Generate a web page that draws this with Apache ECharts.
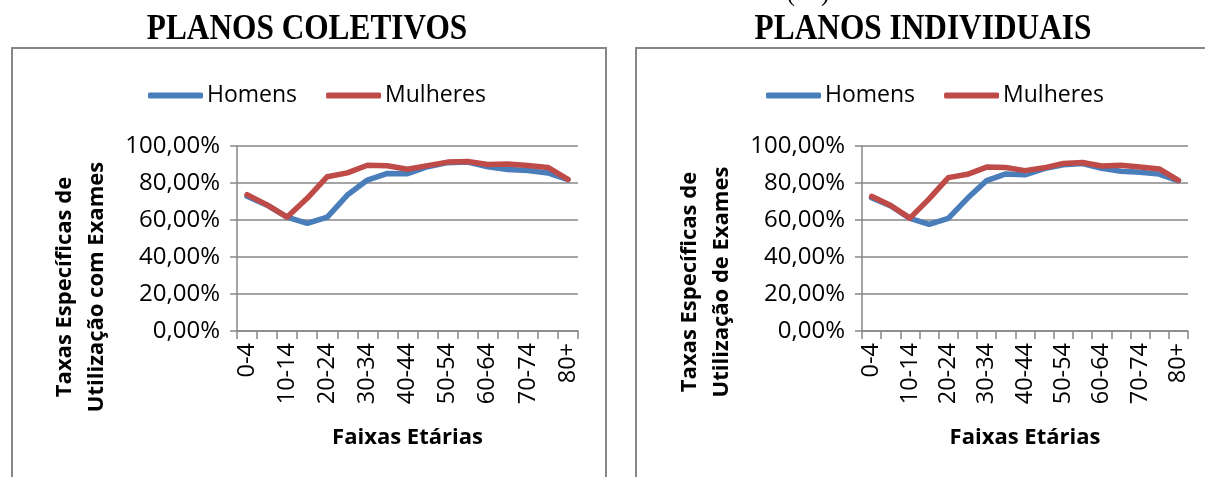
<!DOCTYPE html>
<html>
<head>
<meta charset="utf-8">
<script src="https://cdn.jsdelivr.net/npm/echarts@6/dist/echarts.min.js"></script>
<style>
  html, body { margin: 0; padding: 0; background: #fff; }
  #chart { width: 1205px; height: 477px; }
</style>
</head>
<body>
<div id="chart"></div>
<script>
  // faixas etárias (eixo x)
  var categorias = ['0-4', '5-9', '10-14', '15-19', '20-24', '25-29', '30-34', '35-39', '40-44',
    '45-49', '50-54', '55-59', '60-64', '65-69', '70-74', '75-79', '80+'];

  // planos coletivos, em %
  var coletivosHomens = [72.8, 68.0, 61.5, 58.2, 61.6, 73.5, 81.6, 85.2, 85.0, 88.8, 91.0, 91.3, 88.8, 87.3, 86.7, 85.4, 81.8];
  var coletivosMulheres = [73.7, 68.2, 61.6, 71.7, 83.4, 85.5, 89.6, 89.3, 87.4, 89.4, 91.3, 91.6, 90.0, 90.3, 89.5, 88.4, 82.0];

  // planos individuais, em %
  var individuaisHomens = [72.0, 67.6, 60.9, 57.7, 60.9, 71.7, 81.3, 84.9, 84.4, 87.8, 89.8, 90.5, 87.9, 86.4, 85.8, 84.8, 81.2];
  var individuaisMulheres = [72.8, 67.8, 61.0, 71.4, 82.9, 84.7, 88.6, 88.4, 86.7, 88.2, 90.6, 91.1, 89.2, 89.6, 88.7, 87.6, 81.4];

  // eixo y
  var yMin = 0;
  var yMax = 100;
  var yPasso = 20;

  var cinza = '#878787';
  var azul = '#4a7ebb';
  var vermelho = '#be4b48';
  var fonte = '"Open Sans", sans-serif';

  function pct(v) {
    return v.toFixed(2).replace('.', ',') + '%';
  }

  function eixoX(idx) {
    return {
      type: 'category',
      gridIndex: idx,
      data: categorias,
      boundaryGap: true,
      axisLine: { lineStyle: { color: cinza, width: 1.5 } },
      axisTick: { show: true, interval: 0, length: 8, lineStyle: { color: cinza, width: 1.5 } },
      axisLabel: { interval: 1, rotate: 90, margin: 12, color: '#000', fontSize: 23.5, fontFamily: fonte },
      name: 'Faixas Etárias',
      nameLocation: 'middle',
      nameGap: 96,
      nameTextStyle: { color: '#000', fontSize: 22, fontWeight: 'bold', fontFamily: fonte }
    };
  }

  function eixoY(idx) {
    return {
      type: 'value',
      gridIndex: idx,
      min: yMin,
      max: yMax,
      interval: yPasso,
      axisLine: { show: true, lineStyle: { color: cinza, width: 1.5 } },
      axisTick: { show: true, length: 7, lineStyle: { color: cinza, width: 1.5 } },
      axisLabel: { formatter: pct, margin: 17, color: '#000', fontSize: 24, fontFamily: fonte },
      splitLine: { show: true, lineStyle: { color: cinza, width: 1.5 } }
    };
  }

  function serie(nome, dados, cor, idx) {
    return {
      name: nome,
      type: 'line',
      xAxisIndex: idx,
      yAxisIndex: idx,
      data: dados,
      symbol: 'none',
      smooth: false,
      color: cor,
      lineStyle: { color: cor, width: 5.5, cap: 'round', join: 'round' },
      animation: false
    };
  }

  function legenda(left) {
    return {
      left: left,
      top: 79,
      icon: 'roundRect',
      itemWidth: 55,
      itemHeight: 6,
      itemGap: 29,
      data: ['Homens', 'Mulheres'],
      textStyle: { color: '#000', fontSize: 23, fontFamily: fonte, padding: [0, 0, 0, -1] }
    };
  }

  var chart = echarts.init(document.getElementById('chart'));
  chart.setOption({
    backgroundColor: '#fff',
    animation: false,
    legend: [legenda(143), legenda(761)],
    grid: [
      { left: 237, top: 146, width: 341, height: 185 },
      { left: 862, top: 146, width: 326, height: 185 }
    ],
    xAxis: [eixoX(0), eixoX(1)],
    yAxis: [eixoY(0), eixoY(1)],
    series: [
      serie('Homens', coletivosHomens, azul, 0),
      serie('Mulheres', coletivosMulheres, vermelho, 0),
      serie('Homens', individuaisHomens, azul, 1),
      serie('Mulheres', individuaisMulheres, vermelho, 1)
    ],
    graphic: [
      { type: 'rect', shape: { x: 12, y: 48, width: 594, height: 450 }, style: { fill: 'none', stroke: cinza, lineWidth: 2 }, silent: true },
      { type: 'rect', shape: { x: 636, y: 48, width: 620, height: 450 }, style: { fill: 'none', stroke: cinza, lineWidth: 2 }, silent: true },
      {
        type: 'text', x: 307, y: 30, scaleX: 0.87,
        style: { text: 'PLANOS COLETIVOS', fontSize: 36, fontWeight: 'bold', fontFamily: '"Liberation Serif", serif', fill: '#000', align: 'center', verticalAlign: 'middle' }
      },
      {
        type: 'text', x: 923, y: 30, scaleX: 0.87,
        style: { text: 'PLANOS INDIVIDUAIS', fontSize: 36, fontWeight: 'bold', fontFamily: '"Liberation Serif", serif', fill: '#000', align: 'center', verticalAlign: 'middle' }
      },
      {
        type: 'text', x: 808, y: -8, scaleX: 0.87,
        style: { text: '(    )', fontSize: 30, fontFamily: '"Liberation Serif", serif', fill: '#000', align: 'center', verticalAlign: 'middle' }
      },
      {
        type: 'text', x: 81, y: 287, rotation: Math.PI / 2,
        style: { text: 'Taxas Específicas de\nUtilização com Exames', fontSize: 22, lineHeight: 32, fontWeight: 'bold', fontFamily: fonte, fill: '#000', align: 'center', verticalAlign: 'middle' }
      },
      {
        type: 'text', x: 706, y: 282, rotation: Math.PI / 2,
        style: { text: 'Taxas Específicas de\nUtilização de Exames', fontSize: 22, lineHeight: 32, fontWeight: 'bold', fontFamily: fonte, fill: '#000', align: 'center', verticalAlign: 'middle' }
      }
    ]
  });
</script>
</body>
</html>
